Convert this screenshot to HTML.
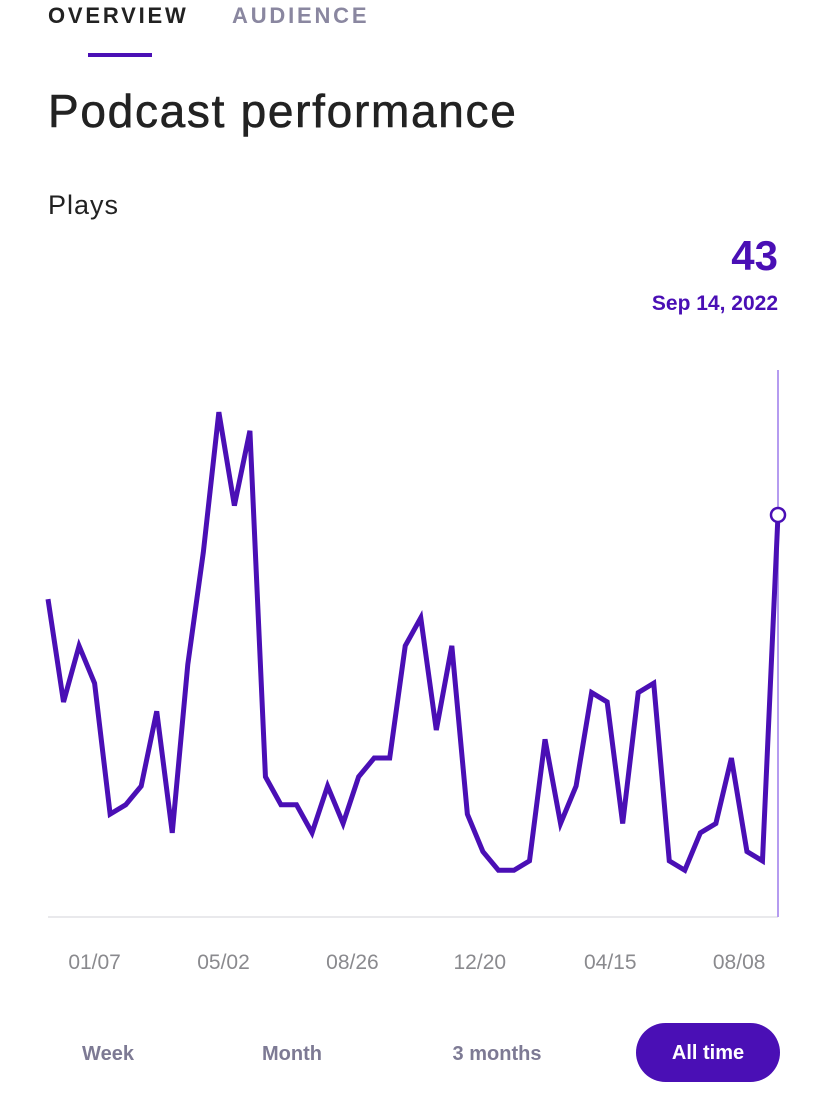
<!DOCTYPE html>
<html><head><meta charset="utf-8"><style>
body{margin:0;width:828px;height:1118px;background:#fff;font-family:"Liberation Sans",sans-serif;overflow:hidden;position:relative}
.a{position:absolute;margin:0}
.tab{top:3px;font-size:22px;font-weight:bold;letter-spacing:2.8px}
.btn{top:1043px;font-size:20px;font-weight:bold;color:#7d7a94;transform:translateX(-50%)}
</style></head><body>
<div class="a tab" style="left:48px;color:#222">OVERVIEW</div>
<div class="a tab" style="left:232px;color:#8a87a0">AUDIENCE</div>
<div class="a" style="left:88px;top:53px;width:64px;height:4px;background:#4a0fb5"></div>
<h1 class="a" style="left:48px;top:84px;font-size:46px;font-weight:500;letter-spacing:1.7px;color:#222;-webkit-text-stroke:0.6px #222">Podcast performance</h1>
<div class="a" style="left:48px;top:190px;font-size:27px;letter-spacing:1px;color:#222">Plays</div>
<div class="a" style="right:50px;top:232px;font-size:42px;font-weight:bold;color:#4a0fb5">43</div>
<div class="a" style="right:50px;top:292px;font-size:21px;font-weight:bold;color:#4a0fb5">Sep 14, 2022</div>
<svg class="a" id="chart" style="left:0;top:0" width="828" height="1000"></svg>
<div class="a btn" style="left:108px">Week</div>
<div class="a btn" style="left:292px">Month</div>
<div class="a btn" style="left:497px">3 months</div>
<div class="a" style="left:636px;top:1023px;width:144px;height:59px;border-radius:30px;background:#4a0fb5;color:#fff;font-size:20px;font-weight:bold;text-align:center;line-height:61px">All time</div>
<script>
const values=[34,23,29,25,11,12,14,22,9,27,39,54,44,52,15,12,12,9,14,10,15,17,17,29,32,20,29,11,7,5,5,6,19,10,14,24,23,10,24,25,6,5,9,10,17,7,6,43];
const tickLabels=["01/07","05/02","08/26","12/20","04/15","08/08"];
const tickIndex=[3,11.3,19.6,27.8,36.2,44.5];
const NS="http://www.w3.org/2000/svg",svg=document.getElementById('chart');
const x0=48,x1=778,yb=917,k=9.35;
const X=i=>x0+i*(x1-x0)/(values.length-1);
const Y=v=>yb-v*k;
function mk(t,a){const e=document.createElementNS(NS,t);for(const n in a)e.setAttribute(n,a[n]);svg.appendChild(e);return e;}
let b=mk('line',{x1:x0,x2:x1,y1:yb,y2:yb,stroke:'#e2e2e6','stroke-width':1.5});


let c=mk('line',{x1:x1,x2:x1,y1:370,y2:yb,stroke:'#b59cf0','stroke-width':2});


let p=mk('polyline',{points:values.map((v,i)=>X(i)+','+Y(v)).join(' '),fill:'none',stroke:'#4a0fb5','stroke-width':5,'stroke-linejoin':'miter'});


let d=mk('circle',{cx:X(values.length-1),cy:Y(values[values.length-1]),r:7,fill:'#fff',stroke:'#4a0fb5','stroke-width':2.5});


tickLabels.forEach((t,i)=>{const e=mk('text',{x:X(tickIndex[i]),y:969,'text-anchor':'middle','font-size':21,fill:'#8a8a8e','font-family':'Liberation Sans'});e.textContent=t;

});
</script>
</body></html>
